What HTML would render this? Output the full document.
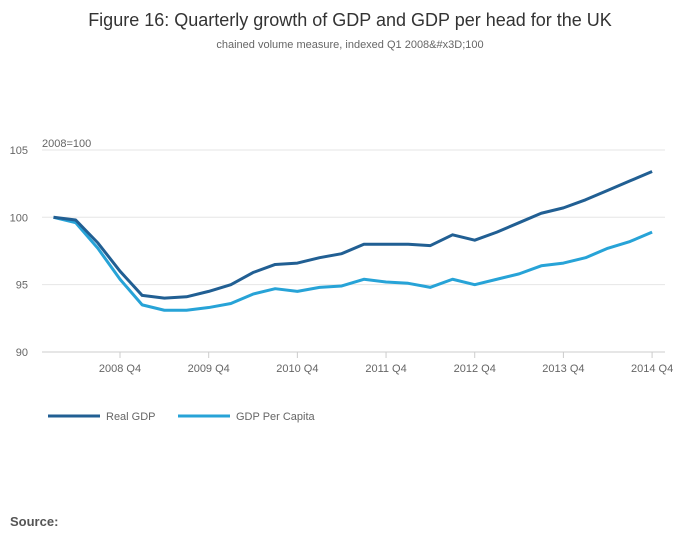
<!DOCTYPE html>
<html><head><meta charset="utf-8"><style>
body{margin:0;background:#fff;font-family:"Liberation Sans",sans-serif;}
svg text{font-family:"Liberation Sans",sans-serif;}
</style></head><body>
<svg id="chart" width="700" height="549">
<text x="350" y="26" text-anchor="middle" font-size="18" fill="#333">Figure 16: Quarterly growth of GDP and GDP per head for the UK</text>
<text x="350" y="48" text-anchor="middle" font-size="11" fill="#666">chained volume measure, indexed Q1 2008&amp;#x3D;100</text>
<text x="42" y="147" font-size="11" fill="#666">2008=100</text>
<g id="grid"></g><g id="xaxis"></g><g id="series"></g>
<g>
<line x1="48" y1="416" x2="100" y2="416" stroke="#215f93" stroke-width="3"/>
<text x="106" y="420" font-size="11" fill="#666">Real GDP</text>
<line x1="178" y1="416" x2="230" y2="416" stroke="#27a3d7" stroke-width="3"/>
<text x="236" y="420" font-size="11" fill="#666">GDP Per Capita</text>
</g>
<text x="10" y="526" font-size="13" font-weight="bold" fill="#555">Source:</text>
</svg>
<script>
const realGDP=[100,99.8,98.1,96.0,94.2,94.0,94.1,94.5,95.0,95.9,96.5,96.6,97.0,97.3,98.0,98.0,98.0,97.9,98.7,98.3,98.9,99.6,100.3,100.7,101.3,102.0,102.7,103.4];
const perCapita=[100,99.6,97.7,95.4,93.5,93.1,93.1,93.3,93.6,94.3,94.7,94.5,94.8,94.9,95.4,95.2,95.1,94.8,95.4,95.0,95.4,95.8,96.4,96.6,97.0,97.7,98.2,98.9];
const yTicks=[90,95,100,105];
const xTickLabels=["2008 Q4","2009 Q4","2010 Q4","2011 Q4","2012 Q4","2013 Q4","2014 Q4"];
const xTickIndex=[3,7,11,15,19,23,27];
const NS="http://www.w3.org/2000/svg";
const x=i=>53.5+i*22.17;
const y=v=>352-(v-90)*13.47;
function mk(t,a,p){const e=document.createElementNS(NS,t);for(const k in a)e.setAttribute(k,a[k]);p.appendChild(e);return e;}
const grid=document.getElementById('grid');
yTicks.forEach(v=>{
 const l=mk('line',{x1:42,x2:665,y1:y(v),y2:y(v),stroke:v===90?'#ccc':'#e6e6e6','stroke-width':1},grid);
 
 
 const t=mk('text',{x:28,y:y(v)+4,'font-size':11,fill:'#666','text-anchor':'end'},grid);
 
 
 t.textContent=v;
});
const xa=document.getElementById('xaxis');
xTickIndex.forEach((ix,k)=>{
 const l=mk('line',{x1:x(ix),x2:x(ix),y1:352,y2:358,stroke:'#ccc'},xa);
 
 
 const t=mk('text',{x:x(ix),y:372,'font-size':11,fill:'#666','text-anchor':'middle'},xa);
 
 
 t.textContent=xTickLabels[k];
});
const sg=document.getElementById('series');
[[perCapita,'#27a3d7','line-gdp-per-capita'],[realGDP,'#215f93','line-real-gdp']].forEach(([d,c,n])=>{
 const p=mk('path',{d:d.map((v,i)=>(i?'L':'M')+x(i)+','+y(v)).join(''),fill:'none',stroke:c,'stroke-width':3,'stroke-linejoin':'round'},sg);
 
 
});
</script>
</body></html>
